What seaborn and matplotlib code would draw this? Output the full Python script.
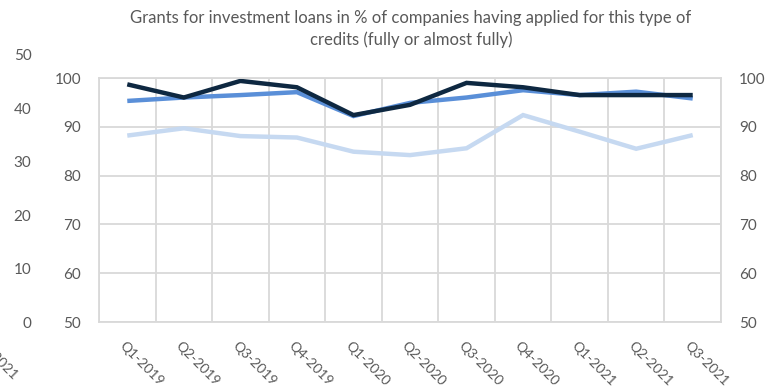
import matplotlib
matplotlib.use("Agg")
import matplotlib.pyplot as plt
import matplotlib.transforms as mtransforms
import seaborn as sns
import pandas as pd

quarters = ["Q1-2019", "Q2-2019", "Q3-2019", "Q4-2019", "Q1-2020", "Q2-2020",
            "Q3-2020", "Q4-2020", "Q1-2021", "Q2-2021", "Q3-2021"]
series_dark = [98.7, 96.0, 99.4, 98.1, 92.4, 94.5, 99.0, 98.1, 96.5, 96.5, 96.5]
series_mid = [95.3, 96.0, 96.5, 97.1, 92.2, 94.9, 96.0, 97.5, 96.5, 97.2, 95.8]
series_light = [88.2, 89.7, 88.1, 87.8, 84.9, 84.2, 85.6, 92.4, 89.0, 85.5, 88.3]
series_names = ["Series 1", "Series 2", "Series 3"]
y_ticks = [50, 60, 70, 80, 90, 100]
ghost_ticks = [0, 10, 20, 30, 40, 50]
title = "Grants for investment loans in % of companies having applied for this type of\ncredits (fully or almost fully)"

colors = {"Series 1": "#0E2841", "Series 2": "#5A8FD8", "Series 3": "#C6D9F1"}

sns.set_theme(style="white")
plt.rcParams["font.family"] = ["Lato", "DejaVu Sans"]

W, H = 768, 390
fig = plt.figure(figsize=(W / 100, H / 100), dpi=100)

def fx(px):
    return px / W

def fy(py):
    return 1 - py / H

# main axes
ax = fig.add_axes([fx(99), fy(322), fx(721) - fx(99), fy(78) - fy(322)])

df = pd.DataFrame({
    "x": list(range(len(quarters))) * 3,
    "value": series_light + series_mid + series_dark,
    "series": [series_names[2]] * len(quarters) + [series_names[1]] * len(quarters) + [series_names[0]] * len(quarters),
})
sns.lineplot(data=df, x="x", y="value", hue="series", palette=colors, linewidth=3.2,
             ax=ax, legend=False, sort=False)
for ln in ax.lines:
    ln.set_solid_capstyle("butt")
    ln.set_solid_joinstyle("miter")

ax.set_xlim(-0.5, len(quarters) - 0.5)
ax.set_ylim(50, 100)
ax.set_yticks(y_ticks)
ax.set_xticks(range(len(quarters)))
ax.set_xticks([i + 0.5 for i in range(-1, len(quarters))], minor=True)
ax.set_xlabel("")
ax.set_ylabel("")
grid_c = "#D9D9D9"
ax.grid(True, which="minor", axis="x", color=grid_c, linewidth=1.3)
ax.grid(True, which="major", axis="y", color=grid_c, linewidth=1.3)
ax.grid(False, which="major", axis="x")
ax.set_axisbelow(True)
for s in ax.spines.values():
    s.set_color(grid_c)
    s.set_linewidth(1.3)
ax.tick_params(axis="both", which="both", length=0)
ax.tick_params(axis="y", pad=13, labelsize=11, labelcolor="#595959")
ax.set_xticklabels([])

# rotated category labels below the plot
offset = mtransforms.ScaledTranslation(-6 / 100, -22 / 100, fig.dpi_scale_trans)
for i, q in enumerate(quarters):
    ax.text(i, 50, q, transform=ax.transData + offset, rotation=-45, ha="left",
            va="center", rotation_mode="anchor", fontsize=10, color="#595959",
            clip_on=False)

# right axis
ax2 = ax.twinx()
ax2.set_ylim(50, 100)
ax2.set_yticks(y_ticks)
ax2.tick_params(axis="y", length=0, pad=13, labelsize=11, labelcolor="#595959")
for s in ax2.spines.values():
    s.set_visible(False)
ax2.grid(False)

# ghost axis from a neighbouring chart (0-50)
axg = fig.add_axes([fx(37), fy(322), fx(2), fy(55) - fy(322)])
axg.set_ylim(0, 50)
axg.set_yticks(ghost_ticks)
axg.set_xticks([])
axg.tick_params(axis="y", length=0, pad=4, labelsize=11, labelcolor="#595959")
for s in axg.spines.values():
    s.set_visible(False)
axg.patch.set_alpha(0)

fig.text(fx(16), fy(378), quarters[-1], rotation=-45, ha="right", va="center",
         rotation_mode="anchor", fontsize=10, color="#595959")

fig.text(fx(411), fy(29), title, ha="center", va="center", fontsize=12,
         color="#595959", linespacing=1.35)

fig.savefig("out.png", dpi=100)
